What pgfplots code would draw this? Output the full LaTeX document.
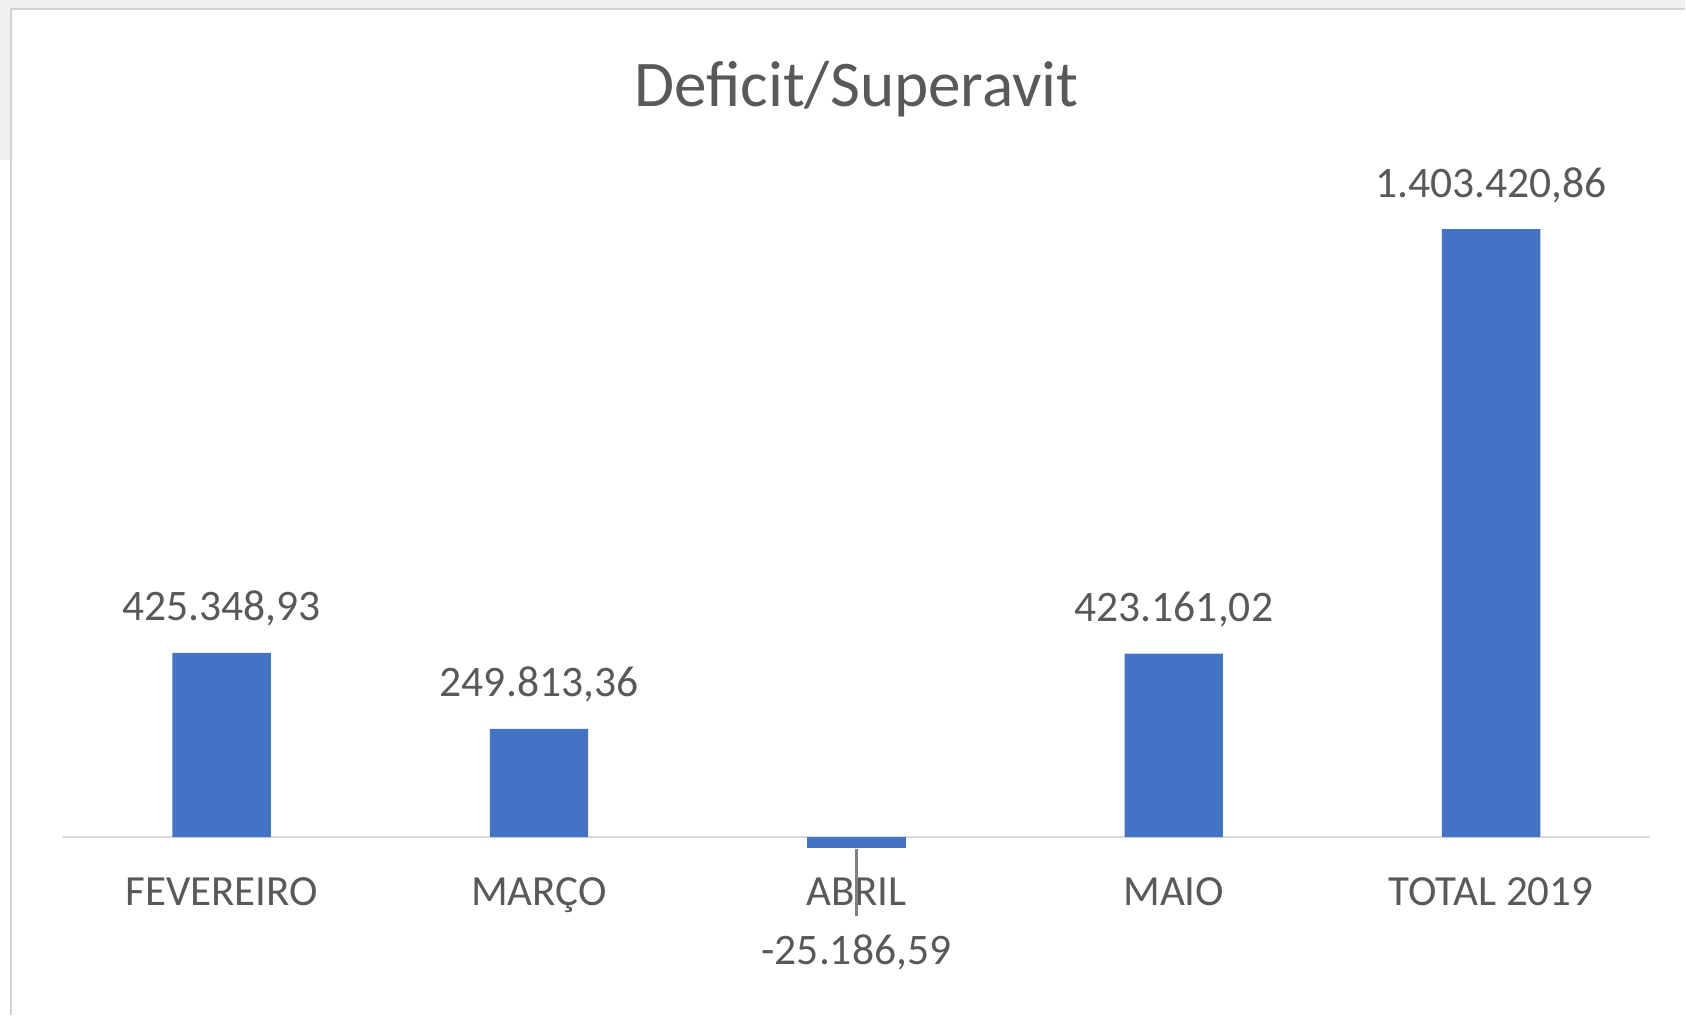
\documentclass[border=0pt]{standalone}
\usepackage{pgfplots}
\pgfplotsset{compat=1.18}
\usepackage{fontspec}
\setmainfont{Carlito}
\definecolor{barblue}{HTML}{4472C4}
\definecolor{txtgray}{HTML}{595959}
\definecolor{axgray}{HTML}{D9D9D9}
\definecolor{bggray}{HTML}{F0F0F0}
\definecolor{frgray}{HTML}{D2D2D2}
\begin{document}
\begin{tikzpicture}
% page background and frame (1 px = 0.25pt)
\fill[white] (0,0) rectangle (421.5pt,254pt);
\fill[bggray] (0,252pt) rectangle (421.5pt,254pt);
\fill[bggray] (0,214pt) rectangle (2.6pt,254pt);
\draw[frgray,line width=0.6pt] (2.8pt,0) -- (2.8pt,251.7pt) -- (421.5pt,251.7pt);
% title
\node[text=txtgray,font=\fontsize{16.3pt}{19pt}\selectfont] at (214.25pt,231.7pt) {Deficit/Superavit};
\begin{axis}[
  at={(15.75pt,33.75pt)}, anchor=south west,
  scale only axis, width=397pt, height=184.25pt,
  xmin=-0.5, xmax=4.5, ymin=-100000, ymax=1600000,
  axis x line=middle, axis y line=none,
  axis line style={axgray,line width=0.6pt,-},
  xtick={0,1,2,3,4},
  xticklabels={FEVEREIRO, MARÇO, ABRIL, MAIO, TOTAL 2019},
  xtick style={draw=none},
  xticklabel style={text=txtgray,font=\fontsize{10.75pt}{12pt}\selectfont,anchor=base,inner sep=0pt,yshift=-15pt},
  clip=false,
  point meta=explicit symbolic,
]
\addplot[ybar, bar width=0.31, bar shift=0pt, fill=barblue, draw=none,
  nodes near coords,
  every node near coord/.append style={text=txtgray,font=\fontsize{10.9pt}{12pt}\selectfont,anchor=base,inner sep=0pt,yshift=8pt}]
  coordinates {(0,425348.93) [425.348,93] (1,249813.36) [249.813,36] (3,423161.02) [423.161,02] (4,1403420.86) [1.403.420,86]};
\addplot[ybar, bar width=0.31, bar shift=0pt, fill=barblue, draw=none,
  nodes near coords,
  every node near coord/.append style={text=txtgray,font=\fontsize{10.9pt}{12pt}\selectfont,anchor=base,inner sep=0pt,yshift=-29.25pt}]
  coordinates {(2,-25186.59) [-25.186,59]};
\draw[gray,line width=0.6pt] (axis cs:2,-28600) -- (axis cs:2,-183200);
\end{axis}
\end{tikzpicture}
\end{document}
